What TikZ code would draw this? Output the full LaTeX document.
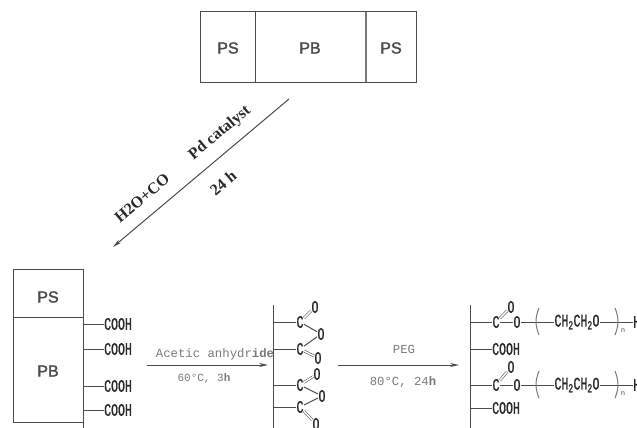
\documentclass[tikz,border=0pt]{standalone}
\usepackage{fontspec}
\setmainfont{Liberation Sans}
\newfontfamily\blockfam{Liberation Sans}[FakeBold=2]
\newfontfamily\serifbold{Liberation Serif}
\newfontfamily\monofam{Liberation Mono}
\newfontfamily\monobold{Liberation Mono}[FakeBold=1.5]
\usetikzlibrary{arrows.meta}
\definecolor{ink}{gray}{0.30}
\definecolor{chem}{gray}{0.16}
\definecolor{soft}{gray}{0.48}
\newcommand{\narrow}[1]{\scalebox{0.72}[1.1]{\monobold #1}}
\tikzset{
  x=1pt,y=-1pt,
  blocktxt/.style={text=ink,font=\fontsize{16}{16}\selectfont\blockfam,inner sep=0pt},
  line/.style={draw=ink,line width=1pt},
  flow/.style={draw=ink,line width=1pt,-{Stealth[length=9pt,width=4pt]}},
  cat/.style={text=chem,font=\fontsize{16}{16}\selectfont\bfseries\serifbold,inner sep=0pt,rotate=40},
  atom/.style={text=chem,font=\fontsize{16}{16}\selectfont,inner sep=0.3pt},
  cond/.style={text=soft,font=\fontsize{12.3}{13}\selectfont\monofam,inner sep=0pt},
  dbl/.style={draw=ink,line width=0.55pt,double=white,double distance=1.5pt},
  par/.style={draw=soft,line width=1pt}
}
\begin{document}
\begin{tikzpicture}
\clip (0,0) rectangle (637,428);
\useasboundingbox (0,0) rectangle (637,428);
\fill[white] (0,0) rectangle (637,428);
% top block
\draw[line] (200,12) rectangle (416,82);
\coordinate (d1a) at (255.5,12); \coordinate (d1b) at (255.5,82);
\coordinate (d2a) at (366,12); \coordinate (d2b) at (366,82);
\draw[line] (d1a) -- (d1b);
\draw[line,line width=1.4pt,draw=soft] (d2a) -- (d2b);
\node[blocktxt] (tps1) at (228,48) {PS};
\node[blocktxt] (tpb) at (310,48) {PB};
\node[blocktxt] (tps2) at (391,48) {PS};
% diagonal arrow
\coordinate (da) at (289,99); \coordinate (db) at (113,247);
\draw[flow] (da) -- (db);
\node[cat] (pd) at (220,133) {Pd catalyst};
\node[cat] (h2o) at (142,198) {H2O+CO};
\node[cat] (t24) at (223,183) {24 h};
% left block
\draw[line] (13,269) rectangle (83,422);
\coordinate (ld1) at (13,317); \coordinate (ld2) at (83,317);
\coordinate (lb1) at (83,422); \coordinate (lb2) at (83,428);
\draw[line] (ld1) -- (ld2);
\draw[line] (lb1) -- (lb2);
\node[blocktxt] (lps) at (48,297) {PS};
\node[blocktxt] (lpb) at (48,371) {PB};
\foreach \n/\y in {1/324,2/349,3/386,4/410}{
  \coordinate (lt\n) at (83,\y);
  \node[atom,anchor=west,inner sep=0pt] (lc\n) at (104,\y) {\narrow{COOH}};
  \draw[line] (lt\n) -- (lc\n.west);
}
% arrow 1
\coordinate (a1a) at (147,365); \coordinate (a1b) at (268,365);
\draw[flow] (a1a) -- (a1b);
\node[cond] (a1t) at (215,354) {Acetic anhydr\textbf{ide}};
\node[cond,font=\fontsize{11}{12}\selectfont\monofam] (a1u) at (204,378) {60\textdegree C, 3\textbf{h}};
% middle structure
\coordinate (ms1) at (273,305); \coordinate (ms2) at (273,428);
\draw[line] (ms1) -- (ms2);
\node[atom] (mc1) at (300,322) {\narrow{C}};
\node[atom] (mo1) at (315,307) {\narrow{O}};
\node[atom] (mo2) at (321,334) {\narrow{O}};
\node[atom] (mc2) at (300,349) {\narrow{C}};
\node[atom] (mo3) at (318,358) {\narrow{O}};
\node[atom] (mc3) at (300,385) {\narrow{C}};
\node[atom] (mo4) at (317,374) {\narrow{O}};
\node[atom] (mo5) at (322,396) {\narrow{O}};
\node[atom] (mc4) at (300,407) {\narrow{C}};
\node[atom] (mo6) at (316,424) {\narrow{O}};
\foreach \c in {1,...,4}{
  \path (ms1 |- mc\c) coordinate (mt\c);
  \draw[line] (mt\c) -- (mc\c);
}
\draw[dbl] (mc1) -- (mo1);
\draw[line] (mc1) -- (mo2);
\draw[line] (mc2) -- (mo2);
\draw[dbl] (mc2) -- (mo3);
\draw[dbl] (mc3) -- (mo4);
\draw[line] (mc3) -- (mo5);
\draw[line] (mc4) -- (mo5);
\draw[dbl] (mc4) -- (mo6);
% arrow 2
\coordinate (a2a) at (338,365); \coordinate (a2b) at (459,365);
\draw[flow] (a2a) -- (a2b);
\node[cond] (a2t) at (404,349) {PEG};
\node[cond] (a2u) at (403,382) {80\textdegree C, 24\textbf{h}};
% right structure
\coordinate (rs1) at (470,305); \coordinate (rs2) at (470,428);
\draw[line] (rs1) -- (rs2);
\foreach \k/\y/\oy in {1/322/307,2/385/367}{
  \node[atom] (rc\k) at (496,\y) {\narrow{C}};
  \node[atom] (rd\k) at (511,\oy) {\narrow{O}};
  \node[atom] (ro\k) at (517,\y) {\narrow{O}};
  \node[atom,inner sep=0pt] (rch\k) at (577,\y) {\narrow{CH\textsubscript{2}CH\textsubscript{2}O}};
  \node[atom,anchor=west,inner sep=0pt] (rh\k) at (633,\y) {\narrow{H}};
  \node[text=ink,font=\fontsize{7}{7}\selectfont,inner sep=0pt] (rn\k) at (623,\y+9) {n};
  \path (rs1 |- rc\k) coordinate (rt\k);
  \draw[line] (rt\k) -- (rc\k);
  \draw[dbl] (rc\k) -- (rd\k);
  \draw[line] (rc\k) -- (ro\k);
  \draw[line] (ro\k) -- (rch\k);
  \draw[line] (rch\k) -- (rh\k);
  \coordinate (pl1\k) at (539,\y-14); \coordinate (pl2\k) at (539,\y+13);
  \coordinate (pr1\k) at (615,\y-14); \coordinate (pr2\k) at (615,\y+13);
  \draw[par] (pl1\k) to[bend right=22] (pl2\k);
  \draw[par] (pr1\k) to[bend left=22] (pr2\k);
}
\foreach \k/\y in {1/349,2/408}{
  \node[atom,anchor=west,inner sep=0pt] (rcooh\k) at (492,\y) {\narrow{COOH}};
  \path (rs1 |- rcooh\k.west) coordinate (ru\k);
  \draw[line] (ru\k) -- (rcooh\k.west);
}
\end{tikzpicture}
\end{document}
